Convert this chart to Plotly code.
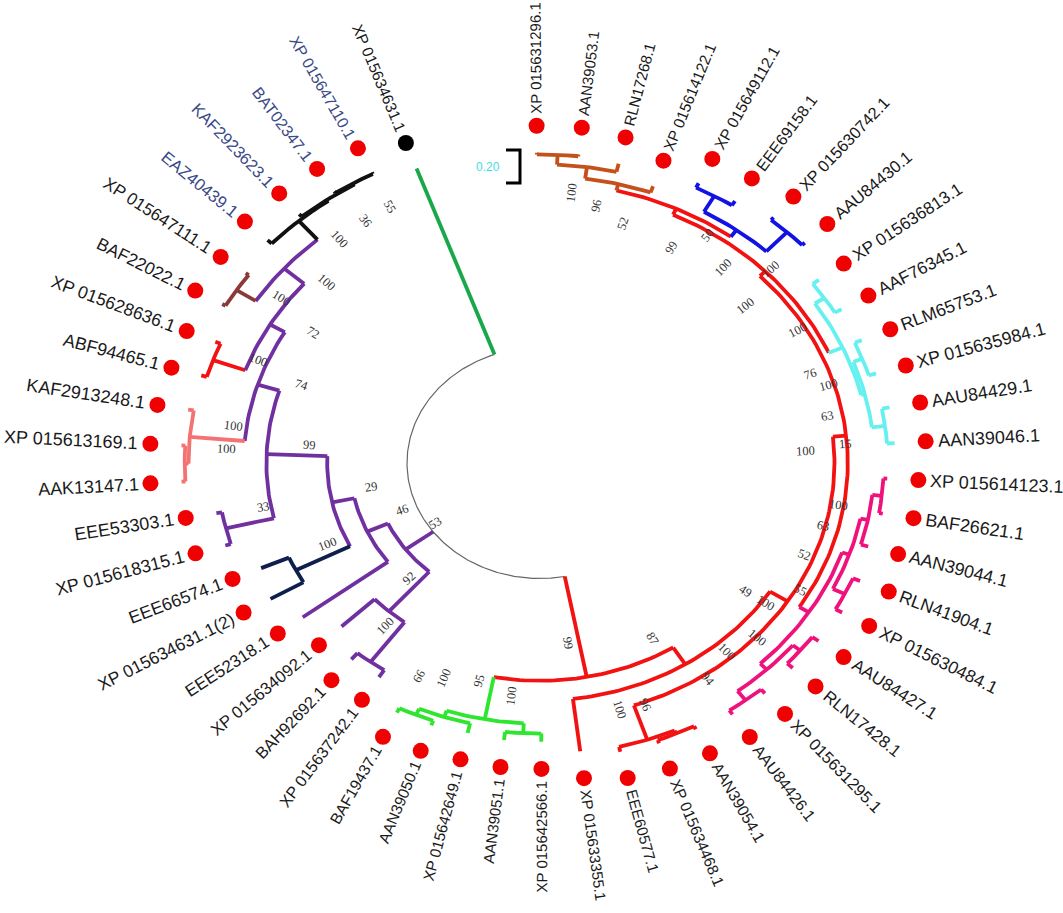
import math
import plotly.graph_objects as go

# taxa, clockwise from the top of the circle
LEAVES = [
    "XP 015631296.1", "AAN39053.1", "RLN17268.1", "XP 015614122.1",
    "XP 015649112.1", "EEE69158.1", "XP 015630742.1", "AAU84430.1",
    "XP 015636813.1", "AAF76345.1", "RLM65753.1", "XP 015635984.1",
    "AAU84429.1", "AAN39046.1", "XP 015614123.1", "BAF26621.1",
    "AAN39044.1", "RLN41904.1", "XP 015630484.1", "AAU84427.1",
    "RLN17428.1", "XP 015631295.1", "AAU84426.1", "AAN39054.1",
    "XP 015634468.1", "EEE60577.1", "XP 015633355.1", "XP 015642566.1",
    "AAN39051.1", "XP 015642649.1", "AAN39050.1", "BAF19437.1",
    "XP 015637242.1", "BAH92692.1", "XP 015634092.1", "EEE52318.1",
    "XP 015634631.1(2)", "EEE66574.1", "XP 015618315.1", "EEE53303.1",
    "AAK13147.1", "XP 015613169.1", "KAF2913248.1", "ABF94465.1",
    "XP 015628636.1", "BAF22022.1", "XP 015647111.1", "EAZ40439.1",
    "KAF2923623.1", "BAT02347.1", "XP 015647110.1", "XP 015634631.1",
]
BLUE_TAXA = [48, 49, 50, 51]
OUTGROUP = 52

# tree topology, bootstrap values and branch lengths (leaves are numbered as above)
RED_CLADE = (
    "(((((((((1:0.01,2:0.01)100:0.06,3:0.05)96:0.07,4:0.04)52:0.04,"
    "((5:0.03,6:0.03)50:0.11,(7:0.02,8:0.02)100:0.16)100:0.05)99:0.04,"
    "((9:0.04,10:0.04)100:0.06,((11:0.04,12:0.04)100:0.05,(13:0.04,14:0.04)15:0.07)63:0.02)76:0.08)100:0.04,"
    "((((15:0.02,16:0.02)100:0.05,17:0.04)63:0.04,(18:0.04,19:0.04)55:0.07)52:0.04,"
    "((20:0.04,21:0.04)100:0.05,(22:0.03,23:0.03)94:0.07)100:0.05)100:0.06)100:0.07,"
    "((24:0.02,25:0.02)96:0.02,26:0.03)100:0.22)49:0.11,"
    "27:0.32)87:0.12,"
    "((28:0.05,29:0.05)100:0.06,(30:0.06,(31:0.03,32:0.03)66:0.04)100:0.04)95:0.26)99:0.62"
)
PURPLE_CLADE = (
    "(((33:0.05,34:0.05)100:0.30,35:0.24)92:0.32,"
    "(36:0.56,((37:0.20,38:0.16)100:0.32,"
    "((39:0.03,40:0.03)33:0.26,"
    "(((41:0.02,42:0.02)100:0.02,43:0.03)100:0.29,"
    "((44:0.03,45:0.03)100:0.18,"
    "((46:0.02,47:0.02)100:0.12,"
    "(48:0.03,(49:0.02,(50:0.01,51:0.01)55:0.01)36:0.01)100:0.15)100:0.14)72:0.09)74:0.12)99:0.32)29:0.12)46:0.12)53:0.18"
)
NEWICK = "(" + RED_CLADE + "," + PURPLE_CLADE + ",52:1.20);"

# clade colours: (first leaf, last leaf, colour)
CLADES = [
    (1, 32, "#f21212"), (1, 4, "#c4501c"), (5, 8, "#1212e2"), (9, 14, "#66f0f0"),
    (15, 23, "#f0127c"), (28, 32, "#2ee62e"), (33, 51, "#7030a0"), (37, 38, "#0e1f4e"),
    (41, 43, "#f47272"), (44, 45, "#f21212"), (46, 47, "#8a3a3a"), (48, 51, "#111111"),
    (52, 52, "#18a84a"),
]
ROOT_COLOUR = "#666666"
SCALE_BAR = 0.20

W, H = 1063, 913
CX, CY = 540, 463          # centre of the tree in pixels
PX_X, PX_Y = 380, 330      # pixels per radius unit
X_RANGE = [-CX / PX_X, (W - CX) / PX_X]
Y_RANGE = [-(H - CY) / PX_Y, CY / PX_Y]
ROOT_R = 0.35
UNIT = 0.5                 # radius per substitution
START, GAP = 90.5, 19.5
STEP = (360 - GAP) / (len(LEAVES) - 1)
DOT_GAP = 0.082
FONT = "Liberation Sans, Arial, sans-serif"


def parse_newick(text):
    pos = 0

    def token():
        nonlocal pos
        start = pos
        while text[pos] not in "(),:;":
            pos += 1
        return text[start:pos]

    def node():
        nonlocal pos
        n = {"kids": [], "len": 0.0, "boot": None, "leaf": None}
        if text[pos] == "(":
            pos += 1
            n["kids"].append(node())
            while text[pos] == ",":
                pos += 1
                n["kids"].append(node())
            pos += 1
            lab = token()
            if lab:
                n["boot"] = lab
        else:
            n["leaf"] = int(token())
        if text[pos] == ":":
            pos += 1
            n["len"] = float(token())
        return n

    return node()


def layout(n, r0):
    n["r"] = r0 + n["len"] * UNIT
    if n["leaf"] is not None:
        n["theta"] = START - (n["leaf"] - 1) * STEP
        n["lo"] = n["hi"] = n["leaf"]
        return
    for k in n["kids"]:
        layout(k, n["r"])
    n["theta"] = (n["kids"][0]["theta"] + n["kids"][-1]["theta"]) / 2
    n["lo"] = min(k["lo"] for k in n["kids"])
    n["hi"] = max(k["hi"] for k in n["kids"])


def colour_of(n):
    best = None
    for lo, hi, col in CLADES:
        if lo <= n["lo"] and n["hi"] <= hi and (best is None or hi - lo < best[0]):
            best = (hi - lo, col)
    return best[1] if best else ROOT_COLOUR


def xy(r, t):
    a = math.radians(t)
    return r * math.cos(a), r * math.sin(a)


CHAR_W = {".": 0.278, " ": 0.278, "(": 0.333, ")": 0.333, "F": 0.611, "T": 0.611, "Z": 0.611,
          "L": 0.556, "M": 0.833, "N": 0.722, "R": 0.722, "U": 0.722, "H": 0.722}


def text_width(s, size, digit=0.556):
    return sum(digit if c.isdigit() else CHAR_W.get(c, 0.667) for c in s) * size


def direction(t):
    a = math.radians(t)
    ux, uy = math.cos(a) * PX_X, math.sin(a) * PX_Y
    norm = math.hypot(ux, uy)
    return ux / norm, uy / norm


def radial_label(t, r, gap_px, width_px):
    """centre position and rotation of a text running outwards from (r, t)"""
    ux, uy = direction(t)
    d = gap_px + width_px / 2
    x0, y0 = xy(r, t)
    phi = math.degrees(math.atan2(uy, ux))
    ang = -phi
    if phi > 91 or phi < -89.5:
        ang = 180 - phi
    ang = (ang + 180) % 360 - 180
    return x0 + ux * d / PX_X, y0 + uy * d / PX_Y, ang


tree = parse_newick(NEWICK)
layout(tree, ROOT_R)

segments = {}


def add(col, pts):
    xs, ys = segments.setdefault(col, ([], []))
    for r, t in pts:
        x, y = xy(r, t)
        xs.append(x)
        ys.append(y)
    xs.append(None)
    ys.append(None)


leaves, inner = [], []


def draw(n, is_root=False):
    if n["leaf"] is not None:
        leaves.append(n)
        return
    if not is_root:
        inner.append(n)
    t0, t1 = n["kids"][0]["theta"], n["kids"][-1]["theta"]
    num = max(2, int(abs(t1 - t0)) + 2)
    arc = [(n["r"], t0 + (t1 - t0) * j / (num - 1)) for j in range(num)]
    add("root" if is_root else colour_of(n), arc)
    for k in n["kids"]:
        add(colour_of(k), [(n["r"], k["theta"]), (k["r"], k["theta"])])
        draw(k)


draw(tree, is_root=True)

fig = go.Figure()
for col, (xs, ys) in segments.items():
    if col == "root":
        line = dict(color=ROOT_COLOUR, width=1.2)
    else:
        line = dict(color=col, width=3.8)
    fig.add_trace(go.Scatter(x=xs, y=ys, mode="lines", line=line, hoverinfo="skip"))

# tip markers
dx, dy, dc = [], [], []
for lf in leaves:
    x, y = xy(lf["r"] + DOT_GAP, lf["theta"])
    dx.append(x)
    dy.append(y)
    dc.append("#000000" if lf["leaf"] == OUTGROUP else "#f00000")
fig.add_trace(go.Scatter(x=dx, y=dy, mode="markers", hoverinfo="skip",
                         marker=dict(size=16, color=dc, line=dict(width=0))))

annotations = []
for lf in leaves:
    name = LEAVES[lf["leaf"] - 1]
    ux, _ = direction(lf["theta"])
    size = 15 + 3 * ux * ux      # labels read a little wider when horizontal
    x, y, ang = radial_label(lf["theta"], lf["r"] + DOT_GAP, 12, text_width(name, size))
    colour = "#3a4a88" if lf["leaf"] in BLUE_TAXA else "#1a1a1a"
    annotations.append(dict(x=x, y=y, text=name, textangle=ang, showarrow=False,
                            xanchor="center", yanchor="middle",
                            font=dict(family=FONT, size=size, color=colour)))

for n in inner:
    if not n["boot"]:
        continue
    x, y, ang = radial_label(n["theta"] - 3, n["r"] - 0.11, 0, 0)
    annotations.append(dict(x=x, y=y, text=n["boot"], textangle=ang, showarrow=False,
                            xanchor="center", yanchor="middle",
                            font=dict(family="Liberation Serif, serif", size=12.5, color="#333333")))

# scale bar (vertical, as in the original)
sb_x, sb_top = (520 - CX) / PX_X, (CY - 150) / PX_Y
sb_len = SCALE_BAR * UNIT
tick = 14 / PX_X
fig.add_trace(go.Scatter(
    x=[sb_x - tick, sb_x, sb_x, sb_x - tick], y=[sb_top, sb_top, sb_top - sb_len, sb_top - sb_len],
    mode="lines", line=dict(color="#000000", width=3), hoverinfo="skip"))
annotations.append(dict(x=sb_x - tick - 4 / PX_X, y=sb_top - sb_len / 2, text=f"{SCALE_BAR:.2f}",
                        showarrow=False, xanchor="right", yanchor="middle",
                        font=dict(family=FONT, size=12, color="#40e0e0")))

fig.update_layout(
    width=W, height=H,
    margin=dict(l=0, r=0, t=0, b=0),
    paper_bgcolor="white", plot_bgcolor="white",
    showlegend=False,
    xaxis=dict(range=X_RANGE, visible=False, fixedrange=True),
    yaxis=dict(range=Y_RANGE, visible=False, fixedrange=True),
    annotations=annotations,
)

fig.write_html("out.html", config={"displayModeBar": False},
               post_script="document.body.style.margin='0';")
